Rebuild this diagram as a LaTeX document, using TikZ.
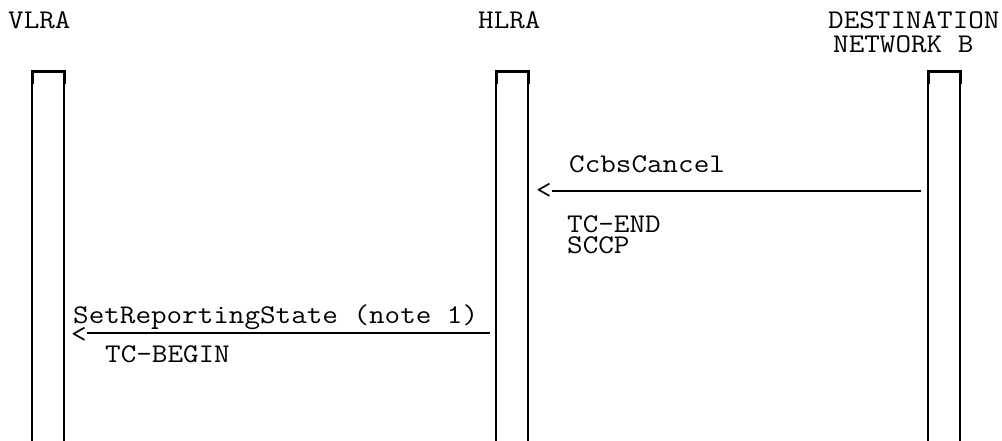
\documentclass[tikz,border=0pt]{standalone}
\usepackage{fontspec}
\begin{document}
\begin{tikzpicture}[x=1pt,y=-1pt,
  lbl/.style={anchor=base west,inner sep=0pt,font=\ttfamily\fontsize{27}{24}\selectfont,xscale=1.12},
  life/.style={line width=1.3pt},
  topbar/.style={line width=3pt},
  msg/.style={line width=2.2pt}]
  \useasboundingbox (0,0) rectangle (1002,441);
  % Titles
  \node[lbl] (vlra) at (8,29) {VLRA};
  \node[lbl] (hlra) at (478,29) {HLRA};
  \node[lbl] (dest) at (828,29) {DESTINATION};
  \node[lbl] (netb) at (833,53) {NETWORK B};
  % Lifelines
  \foreach \x in {32,496,928}{
    \draw[life] (\x,84) -- (\x,441) (\x+32,84) -- (\x+32,441);
    \draw[topbar] (\x,84) -- (\x,72) -- (\x+32,72) -- (\x+32,84);
  }
  % CcbsCancel
  \coordinate (dn1) at (921,191);
  \node[lbl,text height=8pt,text depth=0pt] (lt1) at (536,199) {<};
  \draw[msg] (dn1) -- (lt1.east |- dn1);
  \node[lbl] (ccbs) at (569,173) {CcbsCancel};
  \node[lbl] (tcend) at (567,233) {TC-END};
  \node[lbl] (sccp) at (567,253) {SCCP};
  % SetReportingState
  \coordinate (hl1) at (490,333);
  \node[lbl,text height=8pt,text depth=0pt] (lt2) at (71,342) {<};
  \draw[msg] (hl1) -- (lt2.east |- hl1);
  \node[lbl] (srs) at (73,323) {SetReportingState (note 1)};
  \node[lbl] (tcbeg) at (105,362) {TC-BEGIN};
\end{tikzpicture}
\end{document}
